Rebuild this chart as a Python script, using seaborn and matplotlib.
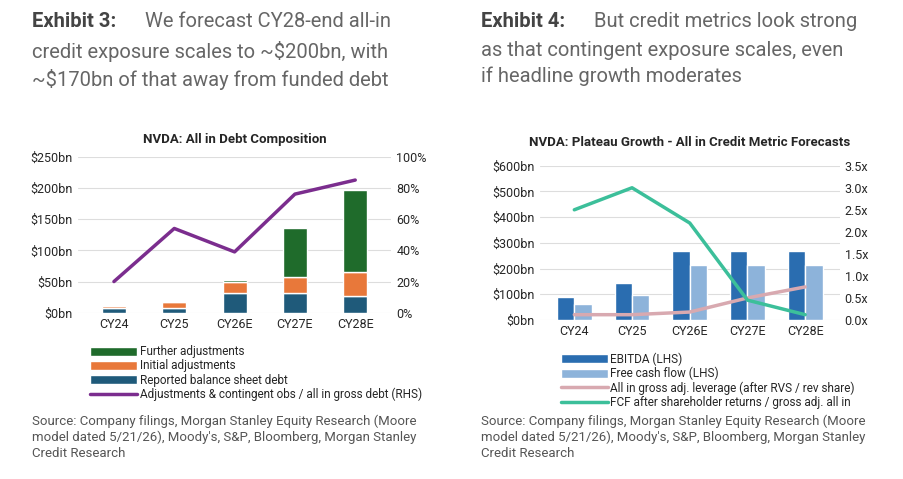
import matplotlib
matplotlib.use("Agg")
import matplotlib.pyplot as plt
import seaborn as sns
import pandas as pd
import numpy as np
from matplotlib.ticker import FuncFormatter

years = ["CY24", "CY25", "CY26E", "CY27E", "CY28E"]

# Exhibit 3 data ($bn, %)
reported_debt = [8, 8, 32, 32, 27]
initial_adj = [3, 10, 17, 25, 38]
further_adj = [0, 0, 3, 78, 132]
contingent_share = [20, 54, 39, 76, 85]

# Exhibit 4 data ($bn, x)
ebitda = [90, 143, 268, 268, 268]
fcf = [63, 98, 215, 215, 215]
gross_leverage = [0.12, 0.12, 0.18, 0.50, 0.75]
fcf_ratio = [2.5, 3.0, 2.2, 0.45, 0.12]

sns.set_style("white")
plt.rcParams['font.family'] = ['Roboto', 'DejaVu Sans']

fig = plt.figure(figsize=(9.04, 4.79), dpi=100)
hdr = ['Roboto', 'DejaVu Sans']

def header(x, bold, first, rest):
    fig.text(x, 0.975, bold, fontsize=14.5, fontweight='bold', color='#444444', family=hdr, va='top')
    fig.text(x + 0.125, 0.975, first, fontsize=14.5, color='#666666', family=hdr, va='top')
    fig.text(x, 0.915, rest, fontsize=14.5, color='#666666', family=hdr, va='top', linespacing=1.45)

header(0.035, "Exhibit 3:", "We forecast CY28-end all-in",
       "credit exposure scales to ~$200bn, with\n~$170bn of that away from funded debt")
header(0.532, "Exhibit 4:", "But credit metrics look strong",
       "as that contingent exposure scales, even\nif headline growth moderates")

src = "Source: Company filings, Morgan Stanley Equity Research (Moore\nmodel dated 5/21/26), Moody's, S&P, Bloomberg, Morgan Stanley\nCredit Research"
fig.text(0.035, 0.135, src, fontsize=9.5, color='#555555', family=hdr, va='top', linespacing=1.3)
fig.text(0.532, 0.135, src, fontsize=9.5, color='#555555', family=hdr, va='top', linespacing=1.3)

def style(ax):
    for s in ax.spines.values():
        s.set_visible(False)
    ax.tick_params(length=0, labelsize=9)

# ---- Left chart
ax = fig.add_axes([0.086, 0.347, 0.347, 0.326])
x = np.arange(len(years))
df = pd.DataFrame({"year": years, "rep": reported_debt, "ini": initial_adj, "fur": further_adj})
ax.bar(x, df.rep, 0.4, color='#1f5a7a', label='Reported balance sheet debt')
ax.bar(x, df.ini, 0.4, bottom=df.rep, color='#e8783a', label='Initial adjustments')
ax.bar(x, df.fur, 0.4, bottom=df.rep + df.ini, color='#1f6b2b', label='Further adjustments')
ax.set_ylim(0, 250)
ax.set_yticks(range(0, 251, 50))
ax.yaxis.set_major_formatter(FuncFormatter(lambda v, p: f"${v:.0f}bn"))
ax.set_xticks(x, years)
ax.set_xlim(-0.6, 4.6)
ax.grid(axis='y', color='#dddddd', lw=0.8)
ax.set_axisbelow(True)
style(ax)
ax.set_title("NVDA: All in Debt Composition", fontsize=9.5, fontweight='bold', pad=10)
ax2 = ax.twinx()
sns.lineplot(x=x, y=contingent_share, ax=ax2, color='#7b2d8e', lw=2.5,
             label='Adjustments & contingent obs / all in gross debt (RHS)', legend=False)
ax2.set_ylim(0, 100)
ax2.set_yticks(range(0, 101, 20))
ax2.yaxis.set_major_formatter(FuncFormatter(lambda v, p: f"{v:.0f}%"))
style(ax2)
h1, l1 = ax.get_legend_handles_labels()
h2, l2 = ax2.get_legend_handles_labels()
ax.legend(h1[::-1] + h2, l1[::-1] + l2, loc='upper left', bbox_to_anchor=(0.02, -0.17),
          frameon=False, fontsize=8.5, handlelength=4, handleheight=0.8,
          labelspacing=0.1, borderpad=0, handletextpad=0.2)

# ---- Right chart
bx = fig.add_axes([0.597, 0.332, 0.332, 0.322])
long = pd.DataFrame({"year": years * 2, "val": ebitda + fcf,
                     "series": ["EBITDA (LHS)"] * 5 + ["Free cash flow (LHS)"] * 5})
sns.barplot(data=long, x="year", y="val", hue="series", ax=bx,
            palette=['#2a6db0', '#8db3da'], width=0.6, saturation=1)
bx.set_ylim(0, 600)
bx.set_yticks(range(0, 601, 100))
bx.yaxis.set_major_formatter(FuncFormatter(lambda v, p: f"${v:.0f}bn"))
bx.set_xlabel("")
bx.set_ylabel("")
bx.set_xlim(-0.6, 4.6)
bx.grid(axis='y', color='#dddddd', lw=0.8)
bx.set_axisbelow(True)
style(bx)
bx.set_title("NVDA: Plateau Growth - All in Credit Metric Forecasts", fontsize=9.5, fontweight='bold', pad=14)
bx2 = bx.twinx()
sns.lineplot(x=x, y=gross_leverage, ax=bx2, color='#d8a9b0', lw=2.5,
             label='All in gross adj. leverage (after RVS / rev share)', legend=False)
sns.lineplot(x=x, y=fcf_ratio, ax=bx2, color='#3cbf9a', lw=2.5,
             label='FCF after shareholder returns / gross adj. all in', legend=False)
bx2.set_ylim(0, 3.5)
bx2.set_yticks(np.arange(0, 3.51, 0.5))
bx2.yaxis.set_major_formatter(FuncFormatter(lambda v, p: f"{v:.1f}x"))
style(bx2)
h1, l1 = bx.get_legend_handles_labels()
h2, l2 = bx2.get_legend_handles_labels()
bx.legend(h1 + h2, l1 + l2, loc='upper left', bbox_to_anchor=(0.05, -0.17),
          frameon=False, fontsize=8.5, handlelength=4, handleheight=0.8,
          labelspacing=0.1, borderpad=0, handletextpad=0.2)

fig.savefig("out.png", dpi=100)
